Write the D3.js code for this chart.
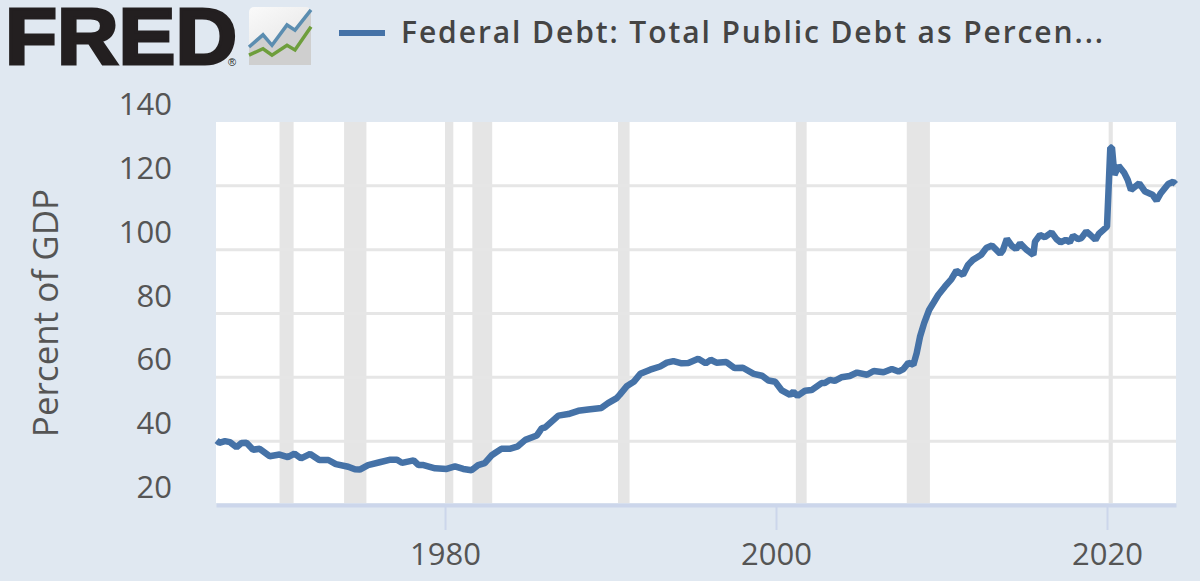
<!DOCTYPE html>
<html><head><meta charset="utf-8">
<script src="https://cdn.jsdelivr.net/npm/d3@7/dist/d3.min.js"></script>
<style>html,body{margin:0;padding:0;background:#e0e8f1;overflow:hidden}svg{display:block}</style>
</head><body><div id="chart"></div>
<script>
const years=[1966.2,1966.36,1966.7,1967,1967.4,1967.7,1968,1968.4,1968.8,1969.4,1970,1970.5,1970.9,1971.3,1971.85,1972.4,1972.95,1973.4,1974.15,1974.55,1974.85,1975.35,1976.05,1976.7,1977.1,1977.4,1978.1,1978.4,1978.7,1979.4,1980.1,1980.6,1981.1,1981.6,1982,1982.4,1982.8,1983,1983.4,1983.9,1984.4,1984.85,1985.55,1985.85,1986.05,1986.85,1987.45,1988.05,1988.65,1989.45,1989.85,1990.35,1990.55,1991,1991.4,1991.8,1992.4,1993,1993.4,1993.8,1994.3,1994.7,1995.3,1995.75,1996.05,1996.4,1997,1997.5,1998,1998.65,1999.15,1999.55,1999.95,2000.35,2000.85,2001.05,2001.3,2001.75,2002.15,2002.75,2002.95,2003.25,2003.55,2003.95,2004.45,2004.9,2005.5,2005.9,2006.5,2007,2007.4,2007.7,2008,2008.3,2008.5,2008.7,2008.95,2009.25,2009.8,2010.2,2010.6,2010.9,2011.3,2011.6,2011.9,2012.4,2012.7,2013.05,2013.55,2013.7,2013.95,2014.25,2014.5,2014.75,2015.15,2015.55,2015.65,2015.95,2016.25,2016.65,2016.95,2017.2,2017.5,2017.75,2017.95,2018.25,2018.45,2018.75,2019,2019.3,2019.5,2020,2020.2,2020.3,2020.45,2020.7,2021.05,2021.25,2021.45,2021.95,2022.3,2022.75,2023,2023.25,2023.7,2024,2024.15];
const debtPct=[40.2,39.5,40,39.7,38.1,39.4,39.5,37.3,37.6,35.3,35.8,35,36.1,34.6,36,34.1,34.1,32.8,32,31.2,31.1,32.5,33.4,34.2,34.2,33.2,34,32.5,32.5,31.5,31.3,32.1,31.3,30.9,32.5,33.1,35.5,36.2,37.6,37.6,38.4,40.4,41.8,44.1,44.3,48,48.5,49.5,49.9,50.4,51.9,53.4,54.5,57.3,58.6,61.1,62.4,63.4,64.6,65.1,64.4,64.5,65.8,64.4,65.5,64.6,64.8,62.9,63,61.1,60.5,59,58.6,55.9,54.5,55.5,54.2,55.8,56,58.2,58.2,59.2,58.9,60,60.4,61.5,60.8,62,61.6,62.6,61.8,62.6,64.6,63.9,67.6,72.7,77,81.1,85.8,88.4,90.8,93.4,92.1,95.2,96.8,98.4,100.5,101.3,98.7,99.7,103.4,101.2,100.2,102,99.9,98.4,102.5,104.6,103.9,105.4,103.3,102.3,103.1,102.3,104.4,103.3,103.6,105.7,104.6,103.1,104.9,107.2,132,132,123.4,126.3,124,121.9,118.7,120.8,118.2,117.2,115.4,117.7,120.6,121.3,120.5];
const recessionStart=[1970.0,1973.9,1980.0,1981.65,1990.45,2001.2,2007.9,2020.1];
const recessionEnd=[1970.85,1975.25,1980.5,1982.85,1991.15,2001.85,2009.3,2020.35];
const yTicks=[20,40,60,80,100,120,140];
const xTicks=[1980,2000,2020];
const legendLabel="Federal Debt: Total Public Debt as Percen...";
const yLabel="Percent of GDP";
const iconX=[0,14,23,38,46,62];
const iconBlueV=[0.31,0.52,0.34,0.69,0.6,0.95];
const iconGreenV=[0.17,0.28,0.17,0.34,0.26,0.66];

const W=1200,H=581;
const svg=d3.select("#chart").append("svg").attr("width",W).attr("height",H);
svg.append("rect").attr("width",W).attr("height",H).attr("fill","#e0e8f1");
const x=d3.scaleLinear().domain([1966.16,2024.17]).range([216,1176]);
const y=d3.scaleLinear().domain([20,140]).range([505,122]);

svg.append("rect").attr("x",216).attr("y",122).attr("width",960).attr("height",381).attr("fill","#fff");
svg.append("g").selectAll("rect").data(recessionStart).join("rect")
 .attr("x",d=>x(d)).attr("y",122).attr("height",381)
 .attr("width",(d,i)=>x(recessionEnd[i])-x(d)).attr("fill","#e5e5e5");
svg.append("g").selectAll("line").data(yTicks.filter(d=>d>20&&d<140)).join("line")
 .attr("x1",216).attr("x2",1176).attr("y1",d=>y(d)).attr("y2",d=>y(d))
 .attr("stroke","#e6e6e6").attr("stroke-width",3);

// axes
const ax=svg.append("g").attr("transform","translate(0,505)").call(d3.axisBottom(x).tickValues(xTicks).tickFormat(d3.format("d")).tickSizeInner(25).tickSizeOuter(0).tickPadding(13));
ax.select(".domain").attr("stroke","#ccd6eb").attr("stroke-width",4);
ax.selectAll(".tick line").attr("stroke","#ccd6eb").attr("stroke-width",2);
ax.selectAll("text").attr("fill","#555").style("font-family","'Open Sans'").style("font-size","31px");
const ay=svg.append("g").attr("transform","translate(172,0)").call(d3.axisLeft(y).tickValues(yTicks).tickSize(0).tickPadding(0));
ay.select(".domain").remove();
ay.selectAll("text").attr("fill","#555").style("font-family","'Open Sans'").style("font-size","31px").attr("dy",null).attr("y",-7.5);

svg.append("text").attr("transform","translate(58,313) rotate(-90)").attr("text-anchor","middle")
 .attr("fill","#555").style("font-family","'Open Sans'").style("font-size","35px").text(yLabel);

// series
const line=d3.line().x((d,i)=>x(years[i])).y(d=>y(d)).curve(d3.curveLinear);
svg.append("path").attr("d",line(debtPct)).attr("fill","none").attr("stroke","#4572a7")
 .attr("stroke-width",6.5).attr("stroke-linejoin","bevel");

// legend
svg.append("line").attr("x1",339).attr("x2",385).attr("y1",33).attr("y2",33).attr("stroke","#4572a7").attr("stroke-width",6);
svg.append("text").attr("x",401).attr("y",43).attr("fill","#444").style("font-family","'Open Sans'").style("font-weight",600)
 .style("font-size","30px").attr("textLength",702).attr("lengthAdjust","spacing").text(legendLabel);

// logo
svg.append("text").attr("x",5).attr("y",64).attr("fill","#231f20").style("font-family","'Liberation Sans'").style("font-weight",700)
 .style("font-size","80px").style("stroke","#231f20").style("stroke-width","3px").attr("textLength",232).attr("lengthAdjust","spacingAndGlyphs").text("FRED");
svg.append("text").attr("x",232).attr("y",66).attr("fill","#231f20").attr("text-anchor","middle").style("font-family","'Liberation Sans'").style("font-size","11px").text("®");
const defs=svg.append("defs");
const g=defs.append("linearGradient").attr("id","ic").attr("x1",0).attr("y1",0).attr("x2",0.6).attr("y2",1);
g.append("stop").attr("offset","0").attr("stop-color","#fafafa");
g.append("stop").attr("offset","1").attr("stop-color","#e4e4e4");
svg.append("rect").attr("x",249).attr("y",7).attr("width",62).attr("height",58).attr("rx",5).attr("fill","url(#ic)");
const ix=d3.scaleLinear().domain([0,62]).range([249,311]);
const iy=d3.scaleLinear().domain([0,1]).range([65,7]);
const il=d3.line().x((d,i)=>ix(iconX[i])).y(d=>iy(d));
const ia=d3.area().x((d,i)=>ix(iconX[i])).y0(iy(0)).y1(d=>iy(d));
svg.append("path").attr("d",ia(iconBlueV)).attr("fill","#cfcfcf");
svg.append("path").attr("d",il(iconBlueV)).attr("fill","none").attr("stroke","#5b8db0").attr("stroke-width",3.5);
svg.append("path").attr("d",il(iconGreenV)).attr("fill","none").attr("stroke","#6e9e3c").attr("stroke-width",3.5);
</script></body></html>
